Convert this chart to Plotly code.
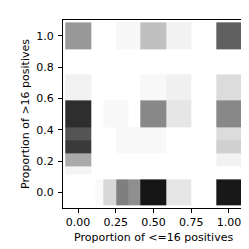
import plotly.graph_objects as go

# bin edges (proportions)
x_edges = [-0.085, 0.085, 0.115, 0.165, 0.25, 0.335, 0.415, 0.585, 0.75, 0.915, 1.085]
y_edges = [-0.085, 0.085, 0.115, 0.165, 0.25, 0.335, 0.415, 0.585, 0.75, 0.915, 1.085]

# gray level per cell (255 = white, 0 = black), rows from bottom (y=0) to top (y=1)
gray_rows = [
    [255, 255, 250, 216, 127, 143, 22, 230, 255, 24],
    [255, 255, 255, 255, 255, 255, 255, 255, 255, 255],
    [244, 255, 255, 255, 255, 255, 255, 255, 255, 255],
    [170, 255, 255, 255, 255, 255, 255, 255, 255, 242],
    [58, 255, 255, 255, 248, 248, 248, 255, 255, 208],
    [84, 255, 255, 255, 248, 248, 248, 255, 255, 220],
    [46, 255, 255, 248, 248, 255, 136, 230, 255, 136],
    [242, 255, 255, 255, 255, 255, 248, 240, 255, 220],
    [255, 255, 255, 255, 255, 255, 255, 255, 255, 255],
    [153, 255, 255, 255, 247, 247, 192, 242, 255, 96],
]

x_ticks = [0.0, 0.25, 0.5, 0.75, 1.0]
x_ticklabels = ["0.00", "0.25", "0.50", "0.75", "1.00"]
y_ticks = [0.0, 0.2, 0.4, 0.6, 0.8, 1.0]
y_ticklabels = ["0.0", "0.2", "0.4", "0.6", "0.8", "1.0"]
x_title = "Proportion of <=16 positives"
y_title = "Proportion of >16 positives"

z = [[1 - g / 255 for g in row] for row in gray_rows]

fig = go.Figure(go.Heatmap(
    x=x_edges, y=y_edges, z=z,
    zmin=0, zmax=1,
    colorscale=[[0, "rgb(255,255,255)"], [1, "rgb(0,0,0)"]],
    showscale=False, hoverinfo="skip",
))

font = dict(family="DejaVu Sans", size=11, color="black")
axis_common = dict(
    showline=True, linecolor="black", linewidth=1, mirror=True,
    ticks="outside", ticklen=4, tickwidth=1, tickcolor="black",
    showgrid=False, zeroline=False, range=[-0.1, 1.1],
    tickfont=font,
)
fig.update_layout(
    width=249, height=249,
    margin=dict(l=55, r=13, t=12, b=49),
    paper_bgcolor="white", plot_bgcolor="white",
    font=font,
    xaxis=dict(axis_common, tickvals=x_ticks, ticktext=x_ticklabels),
    yaxis=dict(axis_common, tickvals=y_ticks, ticktext=y_ticklabels,
               ticklabelstandoff=2,
               title=dict(text=y_title, font=font, standoff=4)),
    annotations=[dict(text=x_title, xref="paper", yref="paper",
                      x=0.5, y=-0.157, xanchor="center", yanchor="middle",
                      showarrow=False, font=font)],
)
fig.write_html("out.html")
